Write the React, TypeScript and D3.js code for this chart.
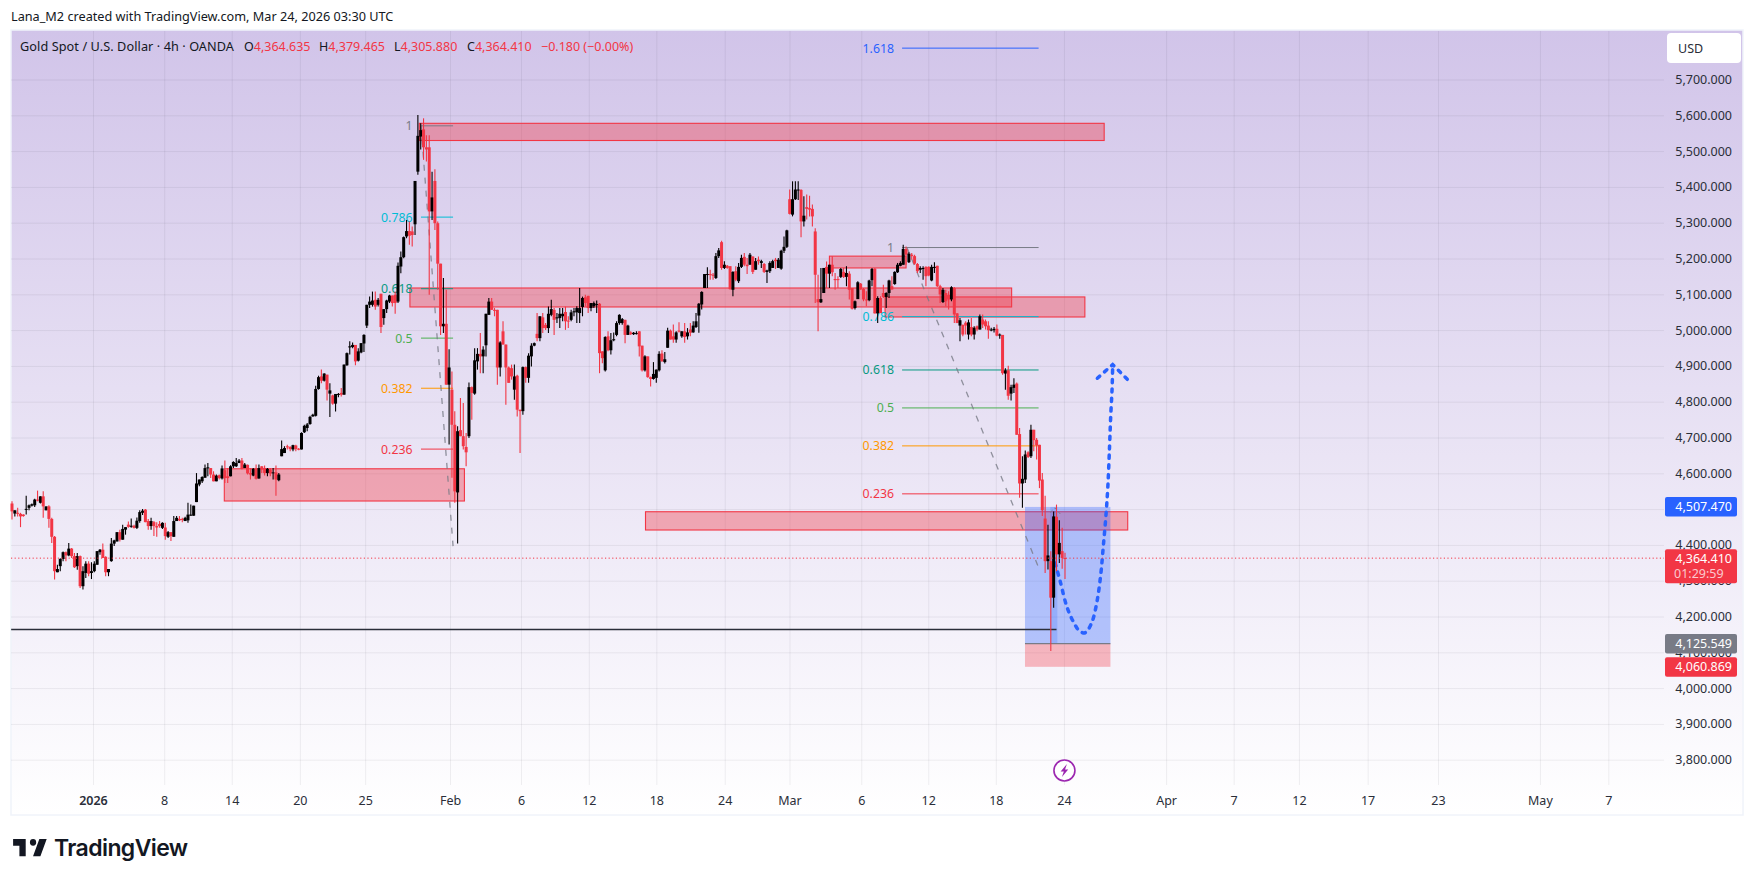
import React from "react";
import * as d3 from "d3";

// 4h candles, [open, high, low, close]
type Bar = [number, number, number, number];

const lateDecBars: Bar[] = [
  [4517,4523,4472,4495],[4489,4498,4481,4498],[4491,4505,4481,4488],[4488,4491,4451,4481],[4486,4487,4480,4482],
  [4500,4539,4486,4502],[4505,4514,4498,4512],[4511,4517,4509,4515],[4512,4530,4507,4528],[4528,4553,4523,4525],
  [4519,4537,4517,4537],[4537,4551,4477,4509],[4498,4509,4498,4509],[4509,4512,4449,4474],[4474,4477,4407,4424],
  [4424,4426,4305,4328],[4325,4346,4325,4334],[4342,4364,4328,4362],[4362,4383,4356,4381],[4381,4383,4356,4372],
  [4372,4407,4370,4391],[4391,4393,4365,4370],[4370,4379,4337,4339],[4342,4379,4332,4370],[4370,4372,4281,4286],
  [4286,4342,4277,4328],[4323,4356,4309,4349],[4349,4356,4314,4321],
];

const janBars: Bar[] = [
  [4323,4353,4306,4328],[4328,4356,4325,4349],[4346,4384,4346,4384],[4381,4390,4374,4388],[4388,4405,4365,4365],
  [4368,4370,4314,4325],[4325,4334,4314,4334],[4356,4421,4354,4405],[4405,4416,4398,4414],[4411,4437,4411,4437],
  [4437,4444,4411,4416],[4416,4458,4416,4446],[4444,4451,4430,4451],[4458,4467,4449,4452],[4452,4475,4449,4455],
  [4455,4458,4447,4449],[4449,4478,4446,4469],[4468,4498,4463,4493],[4491,4502,4485,4497],[4500,4502,4465,4465],
  [4468,4474,4444,4454],[4454,4477,4444,4468],[4465,4468,4426,4454],[4454,4465,4424,4450],[4460,4468,4449,4454],
  [4449,4465,4446,4463],[4450,4463,4416,4426],[4424,4440,4421,4437],[4437,4437,4412,4426],[4424,4482,4424,4468],
  [4468,4482,4468,4477],[4474,4482,4468,4470],[4474,4477,4465,4472],[4468,4480,4468,4477],[4470,4519,4463,4486],
  [4483,4514,4483,4486],[4483,4511,4483,4511],[4521,4602,4521,4573],[4570,4584,4565,4584],[4579,4593,4574,4591],
  [4589,4626,4589,4616],[4616,4630,4593,4618],[4616,4616,4588,4598],[4598,4607,4579,4579],[4579,4598,4579,4595],
  [4596,4598,4584,4588],[4587,4623,4584,4615],[4610,4637,4574,4588],[4593,4616,4574,4588],[4593,4624,4593,4621],
  [4621,4635,4616,4633],[4621,4644,4619,4630],[4630,4641,4630,4637],[4637,4644,4612,4614],[4616,4630,4616,4626],
  [4625,4626,4598,4601],[4602,4616,4584,4598],[4595,4616,4593,4614],[4614,4626,4584,4586],[4587,4626,4586,4616],
  [4621,4621,4602,4612],[4616,4623,4595,4602],[4602,4616,4593,4614],[4612,4616,4593,4601],[4602,4616,4584,4604],
  [4604,4623,4539,4584],[4582,4602,4579,4598],[4649,4693,4649,4669],[4658,4677,4658,4672],[4677,4681,4668,4674],
  [4675,4677,4663,4669],[4668,4681,4663,4680],[4679,4681,4663,4669],[4670,4672,4666,4668],[4668,4716,4668,4714],
  [4716,4737,4714,4734],[4728,4742,4719,4738],[4739,4762,4737,4759],[4760,4768,4760,4765],[4762,4846,4760,4837],
  [4837,4874,4835,4870],[4872,4891,4853,4860],[4860,4881,4858,4880],[4877,4877,4805,4835],[4824,4853,4759,4833],
  [4819,4821,4793,4796],[4796,4823,4774,4823],[4821,4826,4814,4823],[4826,4840,4816,4821],[4821,4905,4821,4905],
  [4903,4939,4902,4937],[4953,4970,4933,4956],[4954,4967,4951,4960],[4960,4960,4903,4914],[4916,4951,4914,4942],
  [4939,4965,4937,4965],[4964,4990,4940,4988],[5014,5072,5007,5072],[5072,5095,5063,5081],[5072,5109,5067,5084],
  [5086,5109,5058,5067],[5072,5091,5067,5086],[5103,5103,4993,5010],[5035,5060,5016,5060],[5060,5086,5049,5084],
  [5081,5100,5077,5098],[5098,5098,5067,5077],[5100,5109,5047,5077],[5081,5190,5077,5181],[5179,5221,5160,5205],
  [5205,5263,5202,5261],[5263,5309,5258,5278],[5278,5305,5240,5265],[5277,5291,5235,5267],[5297,5418,5267,5418],
  [5444,5602,5435,5544],[5542,5579,5506,5560],[5562,5593,5477,5512],[5512,5546,5472,5506],[5512,5546,5100,5333],
  [5333,5444,5309,5372],
];

const febBars: Bar[] = [
  [5418,5451,5281,5300],[5300,5305,5114,5187],[5187,5187,4988,5012],[5012,5147,4993,5019],[5019,5114,4849,4849],
  [4849,4948,4682,4897],[4835,4886,4589,4737],[4737,4775,4519,4551],[4548,4733,4405,4719],[4722,4812,4705,4705],
  [4705,4798,4668,4677],[4675,4714,4621,4660],[4705,4855,4700,4842],[4842,4844,4751,4826],[4824,4951,4821,4917],
  [4914,4951,4891,4935],[4935,4993,4881,4928],[4928,4956,4881,4947],[4959,5047,4928,5047],[5044,5091,5044,5081],
  [5081,5091,5058,5058],[5058,5063,5040,5056],[5058,5058,4849,4897],[4897,4970,4872,4967],[4998,5026,4961,4961],
  [4961,4961,4793,4897],[4897,4900,4854,4854],[4895,4905,4863,4872],[4835,4905,4807,4872],[4874,4877,4760,4779],
  [4779,4779,4658,4775],[4775,4900,4765,4898],[4898,4900,4854,4868],[4868,4937,4854,4930],[4928,4965,4900,4958],
  [4958,4967,4956,4965],[4991,5049,4970,4979],[4979,5040,4970,5040],[5037,5049,4993,5007],[5016,5021,5002,5007],
  [5007,5067,4993,5047],[5044,5086,5040,5060],[5058,5063,4988,5030],[5035,5049,5021,5037],[5035,5063,5007,5047],
  [5040,5063,5026,5047],[5052,5067,5002,5026],[5028,5040,5007,5026],[5030,5058,5026,5051],[5051,5063,5040,5054],
  [5051,5068,5021,5063],[5049,5119,5021,5063],[5066,5095,5040,5091],[5093,5100,5067,5077],[5097,5097,5049,5063],
  [5063,5077,5054,5077],[5068,5081,5063,5077],[5072,5084,5049,5074],[5075,5077,4881,4937],[4942,4942,4909,4923],
  [4889,4984,4886,4982],[4984,4998,4942,4945],[4945,4993,4933,4973],[4973,4995,4970,4976],[4988,5026,4984,5021],
  [5021,5046,5016,5044],[5021,5035,5016,5032],[5030,5030,4965,4988],[4988,5016,4988,5014],[4995,4998,4988,4990],
  [4990,4996,4988,4994],[4991,4998,4989,4993],[4998,4998,4928,4956],[4958,4958,4886,4889],[4889,4931,4886,4928],
  [4928,4928,4868,4870],[4870,4872,4844,4865],[4865,4912,4863,4879],[4868,4891,4854,4891],[4889,4942,4886,4935],
  [4936,4945,4912,4915],[4912,4940,4908,4920],[4952,5008,4952,5000],[5000,5003,4975,4975],[4984,5017,4966,4975],
  [4975,4998,4966,4995],[5000,5023,4995,4997],[4984,4998,4980,4998],[4998,5021,4966,4982],[4984,5007,4975,4995],
  [5003,5021,4984,4994],[4995,5026,4994,5014],[5010,5049,5007,5026],[5042,5077,4994,5075],[5073,5110,5059,5108],
  [5119,5158,5119,5158],[5156,5177,5119,5158],[5158,5170,5142,5156],[5156,5161,5142,5154],[5147,5217,5144,5208],
  [5208,5231,5203,5224],[5247,5251,5170,5175],[5175,5194,5172,5184],[5181,5183,5173,5175],[5180,5180,5114,5116],
  [5114,5166,5096,5164],[5166,5180,5138,5142],[5138,5189,5133,5178],[5178,5212,5175,5203],[5206,5217,5180,5184],
  [5184,5203,5158,5180],[5184,5217,5184,5212],[5207,5207,5158,5164],[5170,5203,5170,5194],[5198,5207,5184,5194],
  [5189,5198,5175,5194],[5186,5189,5161,5164],[5164,5170,5133,5168],[5166,5194,5161,5189],[5175,5198,5175,5194],
  [5198,5203,5172,5194],[5175,5203,5175,5198],[5173,5226,5170,5223],[5223,5263,5217,5234],[5234,5282,5231,5280],
];

const marBars: Bar[] = [
  [5367,5394,5324,5326],[5324,5417,5319,5367],[5367,5417,5365,5394],[5392,5417,5365,5394],[5393,5395,5261,5305],
  [5305,5375,5291,5321],[5345,5380,5310,5340],[5342,5377,5319,5338],[5340,5352,5291,5319],[5277,5286,5077,5156],
  [5088,5156,4998,5079],[5079,5175,5077,5088],[5105,5175,5105,5175],[5178,5193,5119,5159],[5159,5184,5119,5184],
  [5184,5208,5152,5163],[5144,5161,5114,5141],[5144,5152,5119,5141],[5150,5175,5147,5172],[5164,5175,5147,5150],
  [5150,5180,5124,5161],[5159,5166,5087,5114],[5119,5119,5059,5061],[5063,5084,5059,5082],[5088,5138,5088,5135],
  [5131,5133,5114,5115],[5116,5119,5082,5087],[5087,5110,5068,5085],[5085,5142,5082,5140],[5141,5175,5124,5172],
  [5173,5175,5048,5048],[5048,5096,5021,5091],[5091,5096,5049,5049],[5105,5128,5091,5094],[5094,5107,5063,5105],
  [5105,5142,5091,5140],[5124,5152,5114,5115],[5130,5166,5128,5164],[5163,5189,5161,5184],[5181,5194,5180,5189],
  [5184,5240,5184,5228],[5228,5235,5184,5212],[5191,5219,5189,5215],[5212,5217,5198,5208],[5208,5212,5184,5187],
  [5186,5189,5161,5166],[5170,5180,5161,5175],[5172,5180,5142,5175],[5178,5180,5124,5152],[5178,5180,5152,5154],
  [5140,5184,5138,5178],[5175,5191,5161,5178],[5181,5181,5122,5124],[5124,5128,5077,5101],[5080,5119,5077,5114],
  [5105,5114,5068,5082],[5100,5110,5059,5087],[5087,5124,5082,5121],[5119,5122,5021,5045],[5048,5049,5021,5021],
  [5014,5035,4970,5029],[5016,5017,4984,4989],[5022,5026,4989,5014],[4989,5031,4975,5023],[5010,5035,4984,4989],
  [4989,5012,4975,5008],[5012,5014,4998,5003],[5003,5045,5003,5040],[5031,5045,5007,5017],[5026,5031,5003,5012],
  [5014,5026,4977,5001],[5001,5008,4998,5003],[5001,5010,4995,5005],[5005,5017,4984,4986],[4987,4992,4977,4989],
  [4988,4988,4877,4881],[4880,4895,4835,4889],[4889,4902,4807,4818],[4824,4849,4805,4842],[4840,4867,4826,4849],
  [4852,4855,4709,4709],[4711,4728,4533,4573],[4573,4649,4505,4586],[4584,4665,4574,4654],[4660,4663,4644,4647],
  [4649,4737,4644,4723],[4723,4723,4663,4694],[4695,4700,4640,4679],[4681,4681,4560,4581],[4584,4602,4482,4498],
  [4475,4539,4323,4356],[4356,4458,4333,4372],[4356,4384,4105,4254],[4254,4495,4226,4481],[4480,4514,4328,4375],
  [4375,4470,4351,4407],[4384,4449,4335,4365],[4364.635,4379.465,4305.88,4364.41],
];

const bars: Bar[] = [...lateDecBars, ...janBars, ...febBars, ...marBars];

const priceTicks = [3800,3900,4000,4100,4200,4300,4400,4500,4600,4700,4800,4900,5000,5100,5200,5300,5400,5500,5600,5700];
// 4,500 sits fully behind the blue price tag
const hiddenPriceLabels = [4500];

const timeLabels = ["2026","8","14","20","25","Feb","6","12","18","24","Mar","6","12","18","24","Apr","7","12","17","23","May","7"];
const timeBars = [28.7,53.8,77.6,101.6,124.6,154.5,179.5,203.4,227.2,251.3,274.1,299.4,323,346.8,370.8,406.8,430.6,453.6,477.8,502.6,538.5,562.6];

// supply / demand zones: [first bar, last bar, top price, bottom price]
const zones = [
  [143.5, 384.8, 5579, 5531],
  [140.2, 352.2, 5119, 5066],
  [288, 315, 5208, 5175],
  [307.6, 378, 5094, 5038],
  [74.8, 159.4, 4614, 4524],
  [223.2, 393.1, 4494, 4443],
];

const fibColors: Record<string, string> = {
  "1.618": "#2962FF", "1": "#787B86", "0.786": "#00BCD4", "0.618": "#089981",
  "0.5": "#4CAF50", "0.382": "#FF9800", "0.236": "#F23645",
};
const fibLeftLevels: [string, number][] = [["1",5572],["0.786",5317],["0.618",5117],["0.5",4979],["0.382",4839],["0.236",4669]];
const fibRightLevels: [string, number][] = [["1.618",5789],["1",5232],["0.786",5039],["0.618",4890],["0.5",4784],["0.382",4678],["0.236",4544]];
const fibLeftSpan = [144.1, 155.4];
const fibRightSpan = [313.6, 361.7];
const fibLeftTrend: [number, number][] = [[144.1,5572],[155.4,4398]];
const fibRightTrend: [number, number][] = [[315.3,5232],[361.4,4344]];

const longPosition = { first: 356.9, last: 387, target: 4507.47, entry: 4125.549, stop: 4060.869 };
const activeBand = [365.8, 368.3];
const pathMarkCorner: [number, number][] = [[365.8,4492],[367.5,4505],[369.3,4488]];
const supportLine = { first: -0.3, last: 368, price: 4165 };

const curveBars = [367.5,369.3,371.6,374,376.1,378.1,380.4,382.2,383.6,384.5,385.4,386.1,386.7,387.1,387.6,387.8];
const curvePrices = [4351,4300,4230,4186,4161,4156,4184,4240,4319,4398,4481,4565,4677,4760,4840,4905];
const arrowBars = [382.4,387.8,393.7];
const arrowPrices = [4867,4905,4858];

const lastPrice = 4364.41;

const RED = "#F23645";
const FONT = "'Noto Sans', sans-serif";

export default function App() {
  const x = d3.scaleLinear().domain([0, bars.length - 1]).range([12, 1065]);
  const y = d3.scaleLinear().domain([3800, 5700]).range([760.2, 80]);
  const fmt = d3.format(",.3f");
  const line = d3.line<[number, number]>().x((d) => x(d[0])).y((d) => y(d[1]));
  const curve = d3.line<[number, number]>().x((d) => x(d[0])).y((d) => y(d[1])).curve(d3.curveCatmullRom.alpha(0.5));
  const pos = longPosition;

  const axisText = { fontFamily: FONT, fontSize: 12.5, fill: "#2A2E39" };

  return (
    <svg width={1754} height={881} style={{ position: "absolute", left: 0, top: 0, background: "#fff" }}>
      <defs>
        <linearGradient id="bg" x1="0" y1="0" x2="0" y2="1">
          <stop offset="0" stopColor="#D1C4E9" />
          <stop offset="1" stopColor="#FFFFFF" />
        </linearGradient>
      </defs>

      <text x={11} y={21} fontFamily={FONT} fontSize={12.7} fill="#131722">
        Lana_M2 created with TradingView.com, Mar 24, 2026 03:30 UTC
      </text>

      <rect x={11} y={30} width={1732} height={785} fill="url(#bg)" stroke="#F0F3FA" strokeWidth={1.5} />

      {/* grid */}
      {priceTicks.map((p) => (
        <line key={p} x1={11} x2={1664} y1={y(p)} y2={y(p)} stroke="#2A2E39" strokeOpacity={0.07} />
      ))}
      {timeBars.map((b, i) => (
        <line key={i} x1={x(b)} x2={x(b)} y1={31} y2={785} stroke="#2A2E39" strokeOpacity={0.07} />
      ))}

      {/* zones */}
      {zones.map((z, i) => (
        <rect key={i} x={x(z[0])} y={y(z[2])} width={x(z[1]) - x(z[0])} height={y(z[3]) - y(z[2])}
          fill={RED} fillOpacity={0.38} stroke={RED} strokeWidth={1.1} />
      ))}

      {/* long position */}
      <rect x={x(pos.first)} y={y(pos.target)} width={x(pos.last) - x(pos.first)} height={y(pos.entry) - y(pos.target)}
        fill="#2962FF" fillOpacity={0.33} />
      <rect x={x(pos.first)} y={y(pos.entry)} width={x(pos.last) - x(pos.first)} height={y(pos.stop) - y(pos.entry)}
        fill={RED} fillOpacity={0.33} />
      <rect x={x(activeBand[0])} y={y(pos.target)} width={x(activeBand[1]) - x(activeBand[0])} height={y(pos.entry) - y(pos.target)}
        fill="#2962FF" fillOpacity={0.2} />
      <line x1={x(pos.first)} x2={x(pos.last)} y1={y(pos.entry)} y2={y(pos.entry)} stroke="#787B86" strokeWidth={1.2} />
      <path d={line(pathMarkCorner) || ""} fill="none" stroke="#787B86" strokeWidth={1} strokeDasharray="3 3" />

      {/* fib levels */}
      {[
        { levels: fibLeftLevels, span: fibLeftSpan, labelX: 412.5 },
        { levels: fibRightLevels, span: fibRightSpan, labelX: 894 },
      ].map((f, k) =>
        f.levels.map(([name, price]) => (
          <g key={k + name}>
            <line x1={x(f.span[0])} x2={x(f.span[1])} y1={y(price)} y2={y(price)} stroke={fibColors[name]} strokeWidth={1} />
            <text x={f.labelX} y={y(price) + 4.5} textAnchor="end" fontFamily={FONT} fontSize={12.3} fill={fibColors[name]}>{name}</text>
          </g>
        ))
      )}
      <path d={line(fibLeftTrend) || ""} stroke="#787B86" strokeOpacity={0.8} strokeWidth={1.3} strokeDasharray="6 7" fill="none" />
      <path d={line(fibRightTrend) || ""} stroke="#787B86" strokeOpacity={0.8} strokeWidth={1.3} strokeDasharray="6 7" fill="none" />

      <line x1={x(supportLine.first)} x2={x(supportLine.last)} y1={y(supportLine.price)} y2={y(supportLine.price)} stroke="#2A2E39" strokeWidth={1.6} />

      {/* projected path */}
      <path d={curve(curveBars.map((b, i) => [b, curvePrices[i]])) || ""} fill="none" stroke="#2962FF" strokeWidth={3.5}
        strokeDasharray="3.2 6.3" strokeLinecap="round" />
      <path d={line(arrowBars.map((b, i) => [b, arrowPrices[i]])) || ""} fill="none" stroke="#2962FF" strokeWidth={3.5}
        strokeDasharray="3.2 6.3" strokeLinecap="round" />

      {/* candles */}
      {bars.map(([o, h, l, c], i) => {
        const col = c >= o ? "#000000" : RED;
        const top = y(Math.max(o, c));
        return (
          <g key={i}>
            <line x1={x(i)} x2={x(i)} y1={y(h)} y2={y(l)} stroke={col} strokeWidth={1.1} />
            <rect x={x(i) - 1.5} y={top} width={3} height={Math.max(1, y(Math.min(o, c)) - top)} fill={col} />
          </g>
        );
      })}

      <line x1={11} x2={1664} y1={y(lastPrice)} y2={y(lastPrice)} stroke={RED} strokeDasharray="1.2 2.4" strokeWidth={1} />

      {/* price axis */}
      {priceTicks.filter((p) => !hiddenPriceLabels.includes(p)).map((p) => (
        <text key={p} x={1732} y={y(p) + 4} textAnchor="end" {...axisText}>{fmt(p)}</text>
      ))}
      <rect x={1667} y={33} width={74} height={30} rx={4} fill="#fff" />
      <text x={1678} y={53} {...axisText}>USD</text>

      <rect x={1665} y={y(pos.target) - 10} width={72} height={19.5} rx={2} fill="#2962FF" />
      <text x={1732} y={y(pos.target) + 4.5} textAnchor="end" {...axisText} fill="#fff">{fmt(pos.target)}</text>

      <rect x={1665} y={y(lastPrice) - 9} width={72} height={34} rx={2} fill={RED} />
      <text x={1732} y={y(lastPrice) + 4.5} textAnchor="end" {...axisText} fill="#fff">{fmt(lastPrice)}</text>
      <text x={1674} y={y(lastPrice) + 19.5} {...axisText} fill="#FBC9CE">01:29:59</text>

      <rect x={1665} y={y(pos.entry) - 9.6} width={72} height={19.5} rx={2} fill="#787B86" />
      <text x={1732} y={y(pos.entry) + 4.5} textAnchor="end" {...axisText} fill="#fff">{fmt(pos.entry)}</text>

      <rect x={1665} y={y(pos.stop) - 9.6} width={72} height={19.5} rx={2} fill={RED} />
      <text x={1732} y={y(pos.stop) + 4.5} textAnchor="end" {...axisText} fill="#fff">{fmt(pos.stop)}</text>

      {/* time axis */}
      {timeLabels.map((t, i) => (
        <text key={i} x={x(timeBars[i])} y={804.5} textAnchor="middle" {...axisText} fontWeight={t === "2026" ? 600 : 400}>{t}</text>
      ))}

      {/* legend */}
      <text x={20} y={51} fontFamily={FONT} fontSize={12.7} letterSpacing={0.08} fill="#131722">Gold Spot / U.S. Dollar · 4h · OANDA</text>
      {[
        ["O", 244, "4,364.635"],
        ["H", 319, "4,379.465"],
        ["L", 394, "4,305.880"],
        ["C", 467, "4,364.410"],
      ].map(([k, lx, v]) => (
        <text key={k as string} x={lx as number} y={51} fontFamily={FONT} fontSize={12.5} fill="#131722">
          {k}<tspan fill={RED}>{v}</tspan>
        </text>
      ))}
      <text x={541} y={51} fontFamily={FONT} fontSize={12.5} fill={RED}>−0.180 (−0.00%)</text>

      {/* earnings / dividend marker */}
      <g transform={`translate(${x(timeBars[14])},770.5)`}>
        <circle r={10.5} fill="#fff" stroke="#9C27B0" strokeWidth={1.6} />
        <path d="M2.5-6.5 L-3.8 1 H-0.6 L-2.5 6.5 L3.8-1 H0.6 Z" fill="#9C27B0" />
      </g>

      {/* logo */}
      <g transform="translate(11,832) scale(1.05,1.15)" fill="#131722">
        <path d="M14 6H2v6h6v9h6V6Zm14 15h-7l6-15h7l-6 15Zm-7-9a3 3 0 1 0 0-6 3 3 0 0 0 0 6Z" />
      </g>
      <text x={54} y={856} fontFamily="Inter, sans-serif" fontWeight={600} fontSize={23} letterSpacing={-0.6} fill="#131722">TradingView</text>
    </svg>
  );
}
